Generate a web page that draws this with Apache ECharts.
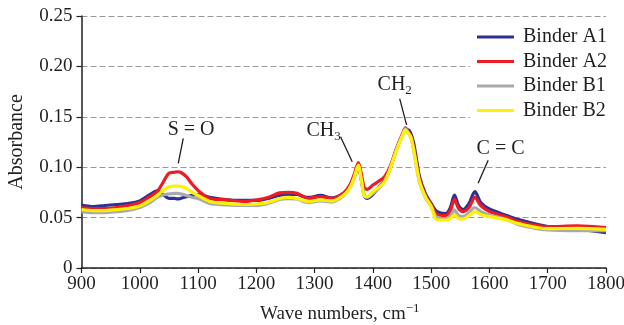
<!DOCTYPE html>
<html><head><meta charset="utf-8">
<script src="https://cdn.jsdelivr.net/npm/echarts@6/dist/echarts.min.js"></script>
<style>html,body{margin:0;padding:0;background:#fff}#c{width:624px;height:325px}</style>
</head><body><div id="c"></div>
<script>
const waveNumbers = [900,920,940,960,980,1000,1015,1030,1040,1050,1060,1065,1070,1080,1090,1100,1120,1150,1180,1200,1220,1240,1255,1270,1280,1290,1310,1330,1350,1360,1368,1375,1380,1385,1390,1400,1410,1420,1430,1440,1450,1456,1460,1465,1470,1475,1480,1490,1500,1510,1525,1533,1540,1547,1555,1565,1575,1585,1600,1630,1650,1700,1750,1800];
const binderA1 = [0.0625,0.061,0.062,0.063,0.064,0.0665,0.072,0.0765,0.073,0.069,0.069,0.0685,0.069,0.0707,0.072,0.073,0.070,0.0675,0.067,0.067,0.069,0.072,0.073,0.073,0.071,0.070,0.072,0.0695,0.074,0.080,0.090,0.101,0.088,0.072,0.069,0.073,0.080,0.087,0.100,0.117,0.131,0.137,0.137,0.1336,0.124,0.107,0.0906,0.074,0.064,0.056,0.054,0.060,0.0724,0.062,0.058,0.064,0.0757,0.065,0.0585,0.052,0.048,0.041,0.0385,0.035];
const binderA2 = [0.060,0.059,0.059,0.060,0.062,0.065,0.070,0.076,0.085,0.094,0.095,0.0955,0.095,0.0906,0.083,0.077,0.069,0.0675,0.066,0.0675,0.070,0.0745,0.075,0.074,0.071,0.069,0.0707,0.069,0.0747,0.082,0.093,0.1045,0.094,0.080,0.078,0.0823,0.086,0.0906,0.101,0.118,0.132,0.139,0.136,0.131,0.120,0.104,0.088,0.072,0.063,0.0535,0.052,0.057,0.068,0.059,0.056,0.060,0.070,0.062,0.056,0.0505,0.046,0.041,0.0417,0.040];
const binderB1 = [0.056,0.055,0.055,0.056,0.057,0.060,0.064,0.070,0.0725,0.0734,0.074,0.074,0.0735,0.072,0.070,0.069,0.064,0.0625,0.062,0.062,0.064,0.068,0.0688,0.0685,0.066,0.065,0.0665,0.0655,0.072,0.079,0.089,0.1015,0.088,0.073,0.070,0.074,0.079,0.086,0.099,0.117,0.131,0.138,0.135,0.130,0.117,0.100,0.085,0.070,0.061,0.050,0.049,0.0515,0.0575,0.052,0.051,0.055,0.060,0.056,0.0526,0.048,0.043,0.0377,0.037,0.037];
const binderB2 = [0.058,0.057,0.057,0.058,0.059,0.0615,0.066,0.072,0.077,0.0807,0.0813,0.0813,0.081,0.079,0.075,0.072,0.066,0.064,0.063,0.0635,0.065,0.069,0.070,0.069,0.067,0.066,0.0675,0.0665,0.0724,0.079,0.090,0.102,0.088,0.0714,0.0707,0.0757,0.080,0.0856,0.099,0.116,0.130,0.137,0.134,0.130,0.117,0.1005,0.0856,0.0707,0.061,0.0476,0.0476,0.049,0.0526,0.049,0.0486,0.052,0.0559,0.053,0.051,0.0476,0.044,0.039,0.0394,0.0384];
const seriesNames = ['Binder A1','Binder A2','Binder B1','Binder B2'];
const seriesColors = ['#2e3192','#ed1c24','#a7a9ac','#fff200'];
const seriesValues = [binderA1, binderA2, binderB1, binderB2];
// annotations: [text, wave, absorbance, align]
const annotations = [
  ['{a|S = O}', 1088, 0.137, 'center'],
  ['{a|CH}{s|3}', 1286, 0.136, 'left'],
  ['{a|CH}{s|2}', 1408, 0.1815, 'left'],
  ['{a|C = C}', 1619, 0.1187, 'center']
];
const leaderLines = [
  [[1074.6,0.1286],[1066,0.1039]],
  [[1344.5,0.1303],[1364.5,0.1055]],
  [[1446,0.168],[1457.8,0.142]],
  [[1597.8,0.107],[1580.6,0.084]]
];
const FONT = 'Liberation Serif';
const TXT = '#231f20';
const chart = echarts.init(document.getElementById('c'), null, {renderer:'canvas'});
const series = seriesNames.map((n,i)=>({
  name:n, type:'line', showSymbol:false, smooth:0.3, z:2+i,
  data: waveNumbers.map((w,k)=>[w, seriesValues[i][k]]),
  lineStyle:{color:seriesColors[i], width:3.2}, itemStyle:{color:seriesColors[i]}
}));
series.push({
  type:'line', data:[], silent:true, z:10,
  markLine:{silent:true, symbol:['none','none'], animation:false,
    lineStyle:{color:TXT, width:1.3, type:'solid'}, label:{show:false},
    data: leaderLines.map(l=>[{coord:l[0]},{coord:l[1]}])},
  markPoint:{silent:true, symbol:'rect', symbolSize:0, animation:false,
    data: annotations.map(a=>({coord:[a[1],a[2]], label:{show:true, position:'inside', formatter:a[0], align:a[3], verticalAlign:'middle',
      rich:{a:{fontFamily:FONT,fontSize:20,color:TXT}, s:{fontFamily:FONT,fontSize:13,color:TXT,verticalAlign:'bottom',padding:[12,0,0,0]}}}}))}
});
chart.setOption({
  animation:false,
  textStyle:{fontFamily:FONT},
  grid:{left:81.5, right:18, top:16, bottom:57, containLabel:false, outerBoundsMode:'none'},
  legend:{data:seriesNames.map(n=>({name:n})), orient:'vertical', left:470, top:24, icon:'rect', itemWidth:37, itemHeight:3,
    itemGap:4.5, padding:[3,8,4,7], backgroundColor:'#fff', textStyle:{fontFamily:FONT, fontSize:20, color:TXT, padding:[0,0,0,4]}},
  xAxis:{type:'value', min:900, max:1800, interval:100,
    name:'Wave numbers, cm{sup|−1}', nameLocation:'middle', nameGap:34,
    nameTextStyle:{fontFamily:FONT, fontSize:19, color:TXT, padding:[0,8,0,0], rich:{sup:{fontSize:13, fontFamily:FONT, color:TXT, verticalAlign:'top', padding:[0,0,12,0]}}},
    axisLine:{lineStyle:{color:TXT, width:1.5}}, axisTick:{length:5, lineStyle:{color:TXT, width:1.2}},
    axisLabel:{fontFamily:FONT, fontSize:19, color:TXT, margin:7, formatter:v=>String(v)}, splitLine:{show:false}},
  yAxis:{type:'value', min:0, max:0.25, interval:0.05,
    name:'Absorbance', nameLocation:'middle', nameGap:55,
    nameTextStyle:{fontFamily:FONT, fontSize:20, color:TXT},
    axisLine:{show:true, lineStyle:{color:TXT, width:1.5}}, axisTick:{show:true, length:5, lineStyle:{color:TXT, width:1.2}},
    axisLabel:{fontFamily:FONT, fontSize:19, color:TXT, margin:9, formatter:v=> v===0?'0':v.toFixed(2)},
    splitLine:{show:true, lineStyle:{color:'#9a9a9a', width:1, type:[6,3]}}},
  series
});
</script></body></html>
